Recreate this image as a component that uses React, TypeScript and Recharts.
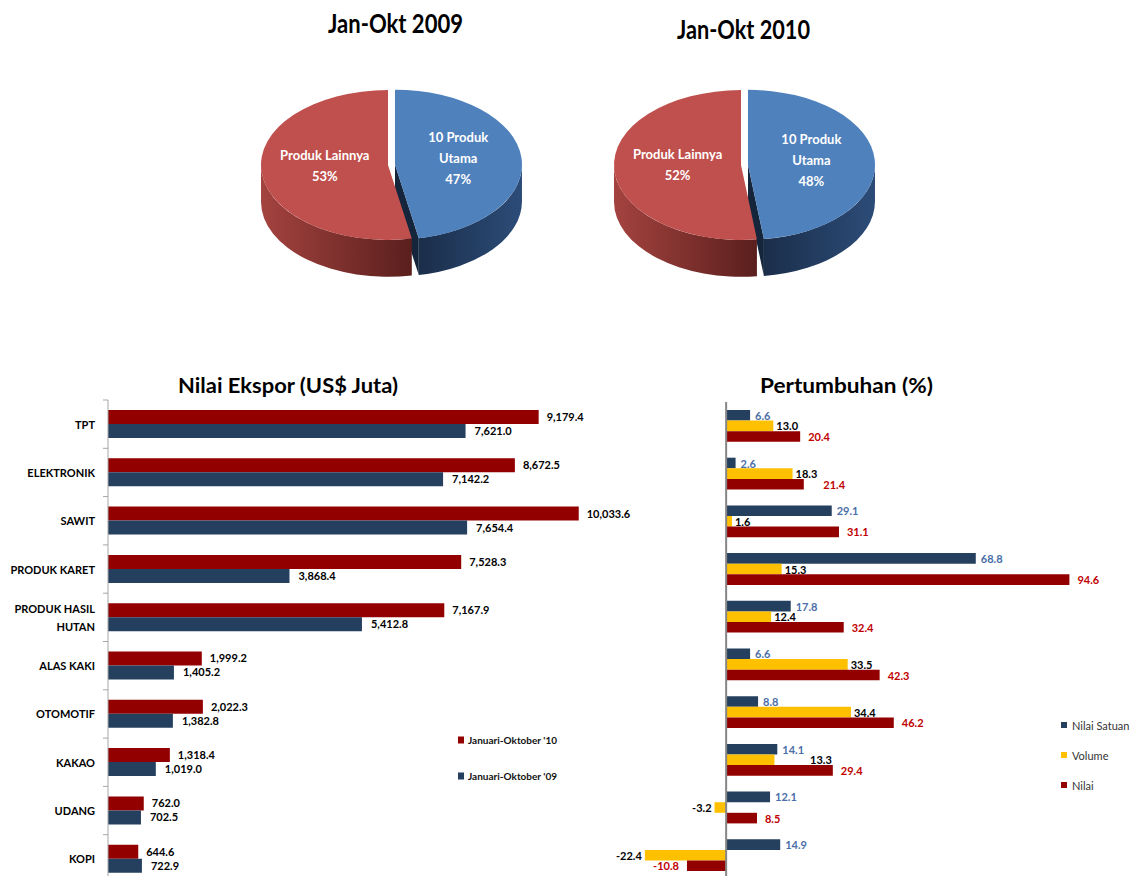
import React from 'react';
import {
  BarChart,
  Bar,
  XAxis,
  YAxis,
  LabelList,
  ReferenceLine,
  PieChart,
  Pie,
  Cell,
} from 'recharts';

// ---------- data ----------
const categories = [
  'TPT',
  'ELEKTRONIK',
  'SAWIT',
  'PRODUK KARET',
  'PRODUK HASIL HUTAN',
  'ALAS KAKI',
  'OTOMOTIF',
  'KAKAO',
  'UDANG',
  'KOPI',
];
const export10 = [9179.4, 8672.5, 10033.6, 7528.3, 7167.9, 1999.2, 2022.3, 1318.4, 762.0, 644.6];
const export09 = [7621.0, 7142.2, 7654.4, 3868.4, 5412.8, 1405.2, 1382.8, 1019.0, 702.5, 722.9];
const exportSeriesNames = ["Januari-Oktober '10", "Januari-Oktober '09"];

const growthNilaiSatuan = [6.6, 2.6, 29.1, 68.8, 17.8, 6.6, 8.8, 14.1, 12.1, 14.9];
const growthVolume = [13.0, 18.3, 1.6, 15.3, 12.4, 33.5, 34.4, 13.3, -3.2, -22.4];
const growthNilai = [20.4, 21.4, 31.1, 94.6, 32.4, 42.3, 46.2, 29.4, 8.5, -10.8];
const growthSeriesNames = ['Nilai Satuan', 'Volume', 'Nilai'];

const pieNames = ['10 Produk Utama', 'Produk Lainnya'];
const pie2009 = [47, 53];
const pie2010 = [48, 52];
const pieTitles = ['Jan-Okt 2009', 'Jan-Okt 2010'];

// ---------- derived tables ----------
const exportData = categories.map((name, i) => ({ name, v10: export10[i], v09: export09[i] }));
const growthData = categories.map((name, i) => ({
  name,
  satuan: growthNilaiSatuan[i],
  volume: growthVolume[i],
  nilai: growthNilai[i],
}));
const makePie = (vals: number[]) => pieNames.map((name, i) => ({ name, value: vals[i], explode: i === 0 }));

// ---------- styles ----------
const FONT = "Lato, 'Open Sans', 'DejaVu Sans', sans-serif";
const RED = '#930000';
const NAVY = '#253F5F';
const GOLD = '#FFC000';
const PIE_TOP = ['#4F81BD', '#C0504D'];
const PIE_SIDE = [
  ['#1B2E4A', '#2C4C78'],
  ['#A4433F', '#5A1F1D'],
];
const PIE_CUT = ['#15253C', '#6E2826'];

const RAD = Math.PI / 180;
const TILT = 0.59;
const DEPTH = 0.29;
const EXPLODE = 7;

function pieGeom(p: any) {
  const { cx, cy, outerRadius, startAngle, endAngle } = p;
  const rx = outerRadius;
  const ry = outerRadius * TILT;
  const d = outerRadius * DEPTH;
  const mid = p.midAngle ?? (startAngle + endAngle) / 2;
  const explode = p.payload?.explode ?? p.explode;
  const ex = explode ? EXPLODE : 0;
  const ox = cx + ex * Math.cos(mid * RAD);
  const oy = cy - ex * TILT * Math.sin(mid * RAD);
  const pt = (a: number, dy = 0) => [ox + rx * Math.cos(a * RAD), oy - ry * Math.sin(a * RAD) + dy];
  return { ox, oy, rx, ry, d, pt };
}

const PieTop = (p: any) => {
  const { ox, oy, rx, ry, pt } = pieGeom(p);
  const a0 = p.startAngle;
  const a1 = p.endAngle;
  const [x0, y0] = pt(a0);
  const [x1, y1] = pt(a1);
  const large = Math.abs(a0 - a1) > 180 ? 1 : 0;
  const sweep = a0 > a1 ? 1 : 0;
  const d = `M${ox},${oy} L${x0},${y0} A${rx},${ry} 0 ${large} ${sweep} ${x1},${y1} Z`;
  return <path d={d} fill={p.fill} stroke="none" />;
};

const makeWall = (chartId: string) => (p: any) => {
  const { ox, oy, rx, ry, d, pt } = pieGeom(p);
  const hi = Math.max(p.startAngle, p.endAngle);
  const lo = Math.min(p.startAngle, p.endAngle);
  const idx = p.index ?? 0;
  const gid = `${chartId}-side-${idx}`;
  const pieces: number[][] = [];
  for (let k = -2; k <= 1; k++) {
    const s = Math.max(lo, -180 + 360 * k);
    const e = Math.min(hi, 360 * k);
    if (e > s) pieces.push([s, e]);
  }
  const cuts: number[] = [];
  if (Math.cos(hi * RAD) < -1e-6) cuts.push(hi);
  if (Math.cos(lo * RAD) > 1e-6) cuts.push(lo);
  return (
    <g>
      <defs>
        <linearGradient id={gid} x1="0" y1="0" x2="1" y2="0">
          <stop offset="0%" stopColor={PIE_SIDE[idx][0]} />
          <stop offset="100%" stopColor={PIE_SIDE[idx][1]} />
        </linearGradient>
      </defs>
      {cuts.map((a, i) => {
        const [x, y] = pt(a);
        return (
          <path
            key={`c${i}`}
            d={`M${ox},${oy} L${x},${y} L${x},${y + d} L${ox},${oy + d} Z`}
            fill={PIE_CUT[idx]}
          />
        );
      })}
      {pieces.map(([s, e], i) => {
        const [xs, ys] = pt(s);
        const [xe, ye] = pt(e);
        return (
          <path
            key={`w${i}`}
            d={`M${xs},${ys} A${rx},${ry} 0 0 0 ${xe},${ye} L${xe},${ye + d} A${rx},${ry} 0 0 1 ${xs},${ys + d} Z`}
            fill={`url(#${gid})`}
          />
        );
      })}
    </g>
  );
};

const pieLabel = (p: any) => {
  const mid = p.midAngle;
  const explode = p.payload?.explode ?? p.explode;
  const ex = explode ? EXPLODE : 0;
  const rx = p.outerRadius;
  const ry = rx * TILT;
  const x = p.cx + (0.5 * rx + ex) * Math.cos(mid * RAD);
  const yc = p.cy - 0.5 * ry * Math.sin(mid * RAD) - 3;
  const name = String(p.name ?? p.payload?.name);
  const pct = `${Math.round((p.percent ?? 0) * 100)}%`;
  const lines = name === '10 Produk Utama' ? ['10 Produk', 'Utama', pct] : [name, pct];
  const lh = 21;
  return (
    <g>
      {lines.map((l, i) => (
        <text
          key={i}
          x={x}
          y={yc + (i - (lines.length - 1) / 2) * lh}
          textAnchor="middle"
          dominantBaseline="central"
          fill="#FFFFFF"
          fontSize={13}
          fontWeight={700}
          fontFamily={FONT}
        >
          {l}
        </text>
      ))}
    </g>
  );
};

const Pie3D = ({ values, id }: { values: number[]; id: string }) => {
  const data = makePie(values);
  const wall = makeWall(id);
  return (
    <PieChart width={400} height={300} margin={{ top: 0, right: 0, bottom: 0, left: 0 }}>
      <Pie
        data={data}
        dataKey="value"
        nameKey="name"
        cx={200}
        cy={165}
        outerRadius={127}
        startAngle={90}
        endAngle={-270}
        isAnimationActive={false}
        label={false}
        labelLine={false}
        shape={wall}
        inactiveShape={wall}
        activeShape={wall}
        stroke="none"
      >
        {data.map((_, i) => (
          <Cell key={i} fill={PIE_SIDE[i][0]} />
        ))}
      </Pie>
      <Pie
        data={data}
        dataKey="value"
        nameKey="name"
        cx={200}
        cy={165}
        outerRadius={127}
        startAngle={90}
        endAngle={-270}
        isAnimationActive={false}
        label={pieLabel}
        labelLine={false}
        shape={PieTop}
        inactiveShape={PieTop}
        activeShape={PieTop}
        stroke="none"
      >
        {data.map((_, i) => (
          <Cell key={i} fill={PIE_TOP[i]} />
        ))}
      </Pie>
    </PieChart>
  );
};

const ExportTick = (props: any) => {
  const { x, y, payload } = props;
  const half = payload?.offset || 24.15;
  const label = String(payload?.value ?? '');
  const lines = label === 'PRODUK HASIL HUTAN' ? ['PRODUK HASIL', 'HUTAN'] : [label];
  const isLast = payload?.index === categories.length - 1;
  return (
    <g>
      <line x1={x - 5} x2={x} y1={y - half} y2={y - half} stroke="#A6A6A6" />
      {isLast && <line x1={x - 5} x2={x} y1={y + half} y2={y + half} stroke="#A6A6A6" />}
      {lines.map((l, i) => (
        <text
          key={i}
          x={x - 13}
          y={y + (i - (lines.length - 1) / 2) * 18}
          textAnchor="end"
          dominantBaseline="central"
          fontSize={11}
          fontWeight={700}
          fill="#000"
          fontFamily={FONT}
        >
          {l}
        </text>
      ))}
    </g>
  );
};

const fmtThousands = (v: any) =>
  Number(v).toLocaleString('en-US', { minimumFractionDigits: 1, maximumFractionDigits: 1 });
const fmtPct = (v: any) => Number(v).toFixed(1);

const labelStyle = { fontSize: 11, fontWeight: 700, fontFamily: FONT };

// label for growth bars: placed after the bar end; if it would clearly collide with
// the label of the bar just above (avoid series), it is pushed past that label.
const CHAR_W = 6.2;
const makeGrowthLabel =
  (offset: number, color: string, avoid?: number[], avoidOffset = 5) =>
  (props: any) => {
    const vb = props.viewBox && props.viewBox.width !== undefined ? props.viewBox : props;
    const x = Number(vb.x);
    const y = Number(vb.y);
    const width = Number(vb.width);
    const height = Number(vb.height);
    const value = Number(props.value);
    const text = fmtPct(value);
    const positive = value >= 0;
    const end = positive ? Math.max(x, x + width) : Math.min(x, x + width);
    const start = positive ? Math.min(x, x + width) : Math.max(x, x + width);
    let lx = end + (positive ? offset : -offset);
    if (avoid && positive && value !== 0) {
      const other = avoid[props.index];
      if (other > 0) {
        const otherEnd = start + (Math.abs(end - start) * other) / value;
        const oStart = otherEnd + avoidOffset;
        const oEnd = oStart + fmtPct(other).length * CHAR_W;
        const myEnd = lx + text.length * CHAR_W;
        if (lx < oEnd - 6 && myEnd > oStart + 6) lx = oEnd + 3;
      }
    }
    return (
      <text
        x={lx}
        y={y + height / 2}
        textAnchor={positive ? 'start' : 'end'}
        dominantBaseline="central"
        fill={color}
        fontSize={11}
        fontWeight={700}
        fontFamily={FONT}
      >
        {text}
      </text>
    );
  };

export default function App() {
  const exportColors = [RED, NAVY];
  const growthColors = [NAVY, GOLD, RED];
  return (
    <div
      style={{
        position: 'absolute',
        left: 0,
        top: 0,
        width: 1136,
        height: 876,
        overflow: 'hidden',
        background: '#FFFFFF',
        fontFamily: FONT,
      }}
    >
      {/* pies */}
      <div style={{ position: 'absolute', left: 188, top: 0 }}>
        <Pie3D values={pie2009} id="p2009" />
      </div>
      <div style={{ position: 'absolute', left: 541, top: 0 }}>
        <Pie3D values={pie2010} id="p2010" />
      </div>

      {/* export value chart */}
      <div style={{ position: 'absolute', left: 0, top: 390 }}>
        <BarChart
          width={680}
          height={500}
          data={exportData}
          layout="vertical"
          margin={{ top: 10, right: 9, bottom: 7, left: 0 }}
          barGap={0}
        >
          <XAxis type="number" domain={[0, 12000]} hide />
          <YAxis
            type="category"
            dataKey="name"
            width={108}
            tickSize={0}
            tickMargin={0}
            tickLine={false}
            axisLine={{ stroke: '#A6A6A6' }}
            tick={<ExportTick />}
            interval={0}
          />
          <Bar dataKey="v10" name={exportSeriesNames[0]} fill={RED} barSize={14} isAnimationActive={false}>
            <LabelList dataKey="v10" position="right" offset={8} formatter={fmtThousands} fill="#000" style={labelStyle} />
          </Bar>
          <Bar dataKey="v09" name={exportSeriesNames[1]} fill={NAVY} barSize={14} isAnimationActive={false}>
            <LabelList dataKey="v09" position="right" offset={9} formatter={fmtThousands} fill="#000" style={labelStyle} />
          </Bar>
        </BarChart>
      </div>

      {/* growth chart */}
      <div style={{ position: 'absolute', left: 570, top: 392 }}>
        <BarChart
          width={530}
          height={500}
          data={growthData}
          layout="vertical"
          margin={{ top: 10, right: 11, bottom: 13, left: 11 }}
          barGap={0}
        >
          <XAxis type="number" domain={[-40, 100]} hide allowDataOverflow />
          <YAxis type="category" dataKey="name" hide />
          <Bar dataKey="satuan" name={growthSeriesNames[0]} fill={NAVY} barSize={10.6} isAnimationActive={false}>
            <LabelList dataKey="satuan" content={makeGrowthLabel(5, '#4A6EA8')} />
          </Bar>
          <Bar dataKey="volume" name={growthSeriesNames[1]} fill={GOLD} barSize={10.6} isAnimationActive={false}>
            <LabelList dataKey="volume" content={makeGrowthLabel(3, '#000000', growthNilaiSatuan, 5)} />
          </Bar>
          <Bar dataKey="nilai" name={growthSeriesNames[2]} fill={RED} barSize={10.6} isAnimationActive={false}>
            <LabelList dataKey="nilai" content={makeGrowthLabel(8, '#C00000', growthVolume, 3)} />
          </Bar>
          <ReferenceLine x={0} stroke="#868686" strokeWidth={2} ifOverflow="extendDomain" />
        </BarChart>
      </div>

      {/* titles and legends */}
      <svg
        width={1136}
        height={876}
        style={{ position: 'absolute', left: 0, top: 0, pointerEvents: 'none' }}
        fontFamily={FONT}
      >
        <text x={395.5} y={33} textAnchor="middle" fontSize={26} fontWeight={700} fill="#000" textLength={135} lengthAdjust="spacingAndGlyphs">
          {pieTitles[0]}
        </text>
        <text x={743.5} y={39} textAnchor="middle" fontSize={26} fontWeight={700} fill="#000" textLength={133} lengthAdjust="spacingAndGlyphs">
          {pieTitles[1]}
        </text>
        <text x={288} y={393} textAnchor="middle" fontSize={20} fontWeight={700} fill="#000" textLength={220} lengthAdjust="spacingAndGlyphs">
          Nilai Ekspor (US$ Juta)
        </text>
        <text x={846.5} y={393} textAnchor="middle" fontSize={20} fontWeight={700} fill="#000" textLength={173} lengthAdjust="spacingAndGlyphs">
          Pertumbuhan (%)
        </text>

        {exportSeriesNames.map((n, i) => (
          <g key={n}>
            <rect x={458} y={736.5 + i * 36} width={6} height={7} fill={exportColors[i]} />
            <text x={468} y={740 + i * 36} dominantBaseline="central" fontSize={10} fontWeight={700} fill="#111">
              {n}
            </text>
          </g>
        ))}
        {growthSeriesNames.map((n, i) => (
          <g key={n}>
            <rect x={1061} y={722 + i * 30} width={6} height={6} fill={growthColors[i]} />
            <text x={1072} y={725 + i * 30} dominantBaseline="central" fontSize={11} fill="#333">
              {n}
            </text>
          </g>
        ))}
      </svg>
    </div>
  );
}
